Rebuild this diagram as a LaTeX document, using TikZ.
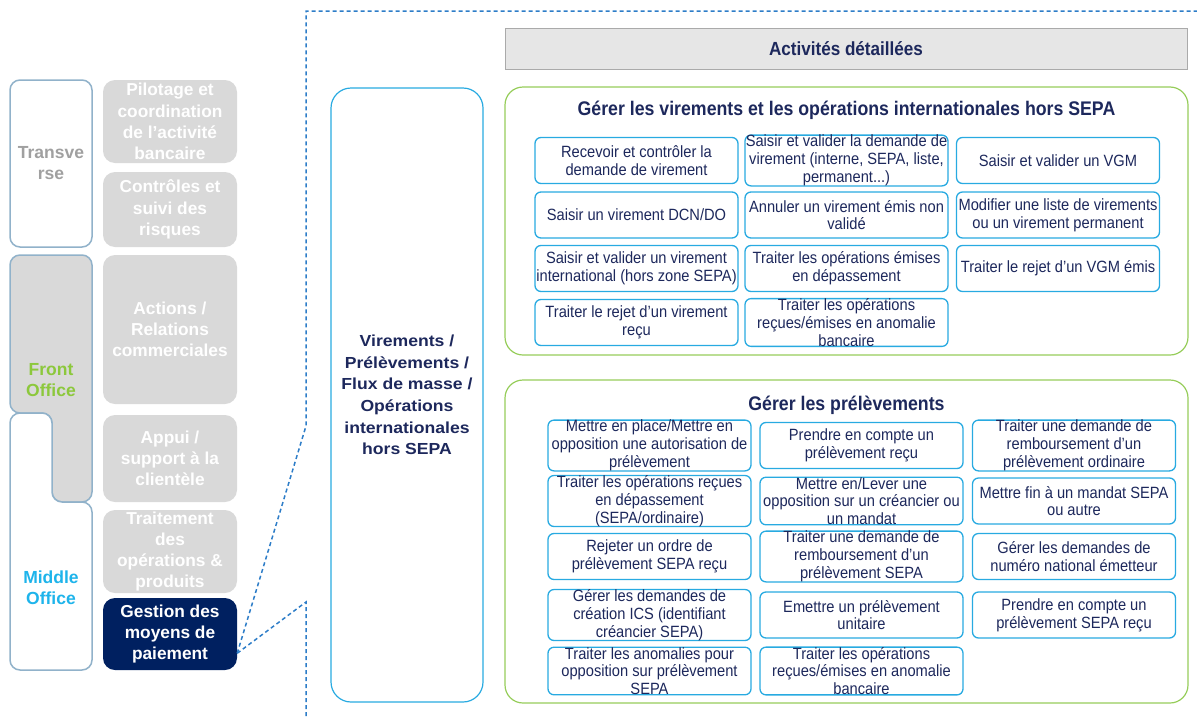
\documentclass[tikz,border=0pt]{standalone}
\usepackage{fontspec}
\setmainfont{Liberation Sans}
\newfontfamily\narrowfont{Liberation Sans}[FakeStretch=0.9]
\newfontfamily\widefont{Liberation Sans}[FakeStretch=1.1]

\definecolor{graybox}{RGB}{217,217,217}
\definecolor{navybox}{RGB}{0,32,96}
\definecolor{navytext}{RGB}{29,40,92}
\definecolor{cyanline}{RGB}{40,170,225}
\definecolor{greenline}{RGB}{150,205,90}
\definecolor{steelline}{RGB}{145,178,202}
\definecolor{frontgreen}{RGB}{140,200,60}
\definecolor{middlecyan}{RGB}{30,180,235}
\definecolor{grayword}{RGB}{160,160,160}
\definecolor{headerfill}{RGB}{230,230,230}
\definecolor{headerline}{RGB}{170,170,170}
\definecolor{zoomblue}{RGB}{45,125,200}

\begin{document}
\begin{tikzpicture}[x=1pt,y=-1pt,
    domainbox/.style ={rounded corners=12pt, fill=graybox, text=white, align=center,
        font=\bfseries\fontsize{17.3}{21.3}\selectfont, minimum width=134pt, inner sep=0pt},
    office/.style ={rounded corners=10pt, draw=steelline, line width=1.5pt},
    officeword/.style ={align=center, font=\bfseries\fontsize{17.5}{21}\selectfont},
    processus/.style ={rounded corners=20pt, draw=cyanline, line width=1.2pt, text=navytext,
        align=center, font=\widefont\bfseries\fontsize{16}{21.6}\selectfont,
        minimum width=152pt, minimum height=614pt},
    header/.style ={draw=headerline, fill=headerfill, line width=1pt, text=navytext,
        font=\narrowfont\bfseries\fontsize{19}{22}\selectfont,
        minimum width=682pt, minimum height=41pt},
    groupbox/.style ={rounded corners=18pt, draw=greenline, line width=1.2pt, minimum width=683pt},
    grouptitle/.style ={text=navytext, font=\narrowfont\bfseries\fontsize{19.7}{22}\selectfont},
    activity/.style ={rounded corners=6pt, draw=cyanline, line width=1.3pt, fill=white,
        text=navytext, align=center, inner sep=0pt,
        font=\narrowfont\fontsize{16.3}{17.8}\selectfont,
        minimum width=203pt, minimum height=46pt},
    zoomline/.style ={draw=zoomblue, line width=1.5pt, dash pattern=on 4pt off 3pt}]
   \useasboundingbox (0,0) rectangle (1197,718);

   % left column
   \node[office, fill=white, minimum width=82pt, minimum height=167pt,
         officeword, text=grayword] (transverse) at (51,163.5) {Transve\\rse};
   \draw[office, fill=graybox] (10,413) -- (10,255) -- (92,255) -- (92,502)
         -- (52,502) -- (52,413) -- cycle;
   \draw[office, fill=white] (10,413) -- (52,413) -- (52,502) -- (92,502)
         -- (92,670) -- (10,670) -- cycle;
   \node[officeword, text=frontgreen] (front) at (51,380) {Front\\Office};
   \node[officeword, text=middlecyan] (middle) at (51,588) {Middle\\Office};

   \node[domainbox, minimum height=83pt] (pilotage) at (170,121.5) {Pilotage et\\coordination\\de l’activité\\bancaire};
   \node[domainbox, minimum height=75pt] (controles) at (170,209.5) {Contrôles et\\suivi des\\risques};
   \node[domainbox, minimum height=149pt] (actions) at (170,329.5) {Actions /\\Relations\\commerciales};
   \node[domainbox, minimum height=87pt] (appui) at (170,458.5) {Appui /\\support à la\\clientèle};
   \node[domainbox, minimum height=83pt] (traitement) at (170,551.5) {Traitement\\des\\opérations \&\\produits};
   \node[domainbox, minimum height=72pt, fill=navybox] (gestion) at (170,634) {Gestion des\\moyens de\\paiement};

   % zoom frame
   \coordinate (frameNW) at (306,11);
   \coordinate (frameNE) at (1197,11);
   \coordinate (frameUp) at (306,426);
   \coordinate (frameDown) at (306,602);
   \coordinate (frameS) at (306,718);
   \draw[zoomline] (gestion.-16) -- (frameUp) -- (frameNW) -- (frameNE);
   \draw[zoomline] (gestion.-16) -- (frameDown) -- (frameS);

   % process
   \node[processus] (virements) at (407,395) {Virements /\\Prélèvements /\\Flux de masse /\\Opérations\\internationales\\hors SEPA};
   \node[header] (activites) at (846,48.5) {Activités détaillées};

   % virements
   \node[groupbox, minimum height=268pt] (virgroup) at (846.5,221) {};
   \node[grouptitle] (virtitle) at (846.5,110) {Gérer les virements et les opérations internationales hors SEPA};
   \node[activity] (v11) at (636.5,160.5) {Recevoir et contrôler la\\demande de virement};
   \node[activity] (v12) at (846.5,160.5) {Saisir et valider la demande de\\virement (interne, SEPA, liste,\\permanent...)};
   \node[activity] (v13) at (1058,160.5) {Saisir et valider un VGM};
   \node[activity] (v21) at (636.5,215) {Saisir un virement DCN/DO};
   \node[activity] (v22) at (846.5,215) {Annuler un virement émis non\\validé};
   \node[activity] (v23) at (1058,215) {Modifier une liste de virements\\ou un virement permanent};
   \node[activity] (v31) at (636.5,268.5) {Saisir et valider un virement\\international (hors zone SEPA)};
   \node[activity] (v32) at (846.5,268.5) {Traiter les opérations émises\\en dépassement};
   \node[activity] (v33) at (1058,268.5) {Traiter le rejet d’un VGM émis};
   \node[activity] (v41) at (636.5,322.5) {Traiter le rejet d’un virement\\reçu};
   \node[activity] (v42) at (846.5,322.5) {Traiter les opérations\\reçues/émises en anomalie\\bancaire};

   % prelevements
   \node[groupbox, minimum height=323pt] (prelgroup) at (846.5,541.5) {};
   \node[grouptitle] (preltitle) at (846.5,405) {Gérer les prélèvements};
   \node[activity] (p11) at (649.5,445.5) {Mettre en place/Mettre en\\opposition une autorisation de\\prélèvement};
   \node[activity] (p12) at (861.5,445.5) {Prendre en compte un\\prélèvement reçu};
   \node[activity] (p13) at (1074,445.5) {Traiter une demande de\\remboursement d’un\\prélèvement ordinaire};
   \node[activity] (p21) at (649.5,501) {Traiter les opérations reçues\\en dépassement\\(SEPA/ordinaire)};
   \node[activity] (p22) at (861.5,501) {Mettre en/Lever une\\opposition sur un créancier ou\\un mandat};
   \node[activity] (p23) at (1074,501) {Mettre fin à un mandat SEPA\\ou autre};
   \node[activity] (p31) at (649.5,556.5) {Rejeter un ordre de\\prélèvement SEPA reçu};
   \node[activity] (p32) at (861.5,556.5) {Traiter une demande de\\remboursement d’un\\prélèvement SEPA};
   \node[activity] (p33) at (1074,556.5) {Gérer les demandes de\\numéro national émetteur};
   \node[activity] (p41) at (649.5,615) {Gérer les demandes de\\création ICS (identifiant\\créancier SEPA)};
   \node[activity] (p42) at (861.5,615) {Emettre un prélèvement\\unitaire};
   \node[activity] (p43) at (1074,615) {Prendre en compte un\\prélèvement SEPA reçu};
   \node[activity] (p51) at (649.5,671) {Traiter les anomalies pour\\opposition sur prélèvement\\SEPA};
   \node[activity] (p52) at (861.5,671) {Traiter les opérations\\reçues/émises en anomalie\\bancaire};
 \end{tikzpicture}
\end{document}
